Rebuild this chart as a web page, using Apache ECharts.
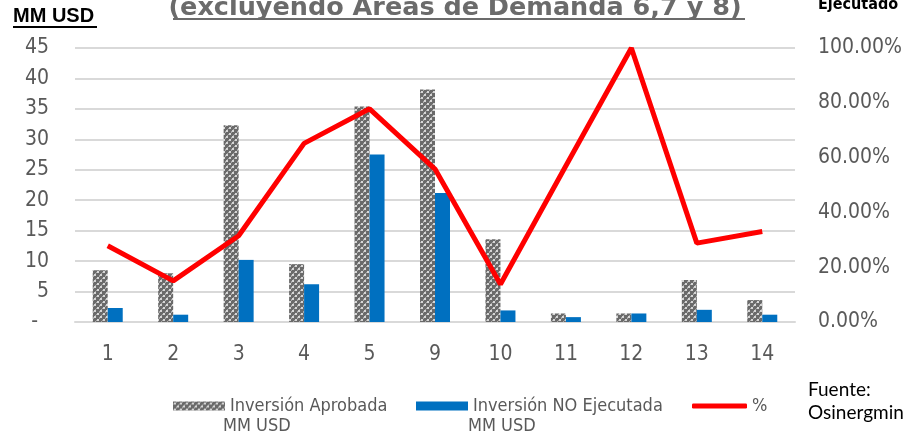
<!DOCTYPE html>
<html>
<head>
<meta charset="utf-8">
<script src="https://cdn.jsdelivr.net/npm/echarts@6/dist/echarts.min.js"></script>
<style>
  html, body { margin: 0; padding: 0; background: #fff; }
  #chart { width: 910px; height: 439px; }
</style>
</head>
<body>
<div id="chart"></div>
<script>
  // areas de demanda
  var categories = ['1', '2', '3', '4', '5', '9', '10', '11', '12', '13', '14']
  // MM USD
  var aprobada = [8.5, 8.0, 32.3, 9.5, 35.4, 38.2, 13.6, 1.4, 1.4, 6.9, 3.6]
  var noEjecutada = [2.3, 1.2, 10.2, 6.2, 27.5, 21.2, 1.9, 0.8, 1.4, 2.0, 1.2]
  // % no ejecutado
  var porcentaje = [27.8, 15.0, 31.5, 65.2, 77.8, 55.8, 13.8, 57.0, 100, 28.8, 33.0]

  var axisFont = "'DejaVu Sans Condensed', sans-serif"
  var legendText = {
    fontFamily: axisFont,
    fontSize: 18,
    color: '#595959',
    lineHeight: 22
  }

  // trama gris de las barras aprobadas
  function makePattern() {
    var c = document.createElement('canvas')
    c.width = 6
    c.height = 6
    var ctx = c.getContext('2d')
    ctx.fillStyle = '#6a6a6a'
    ctx.fillRect(0, 0, 6, 6)
    ctx.fillStyle = '#d6d6d6'
    ctx.fillRect(1, 1, 2, 2)
    ctx.fillRect(4, 4, 2, 2)
    ctx.fillStyle = '#a8a8a8'
    ctx.fillRect(0, 2, 1, 1)
    ctx.fillRect(3, 0, 1, 1)
    ctx.fillRect(3, 5, 1, 1)
    ctx.fillRect(5, 3, 1, 1)
    return c
  }
  var pattern = { image: makePattern(), repeat: 'repeat' }

  var chart = echarts.init(document.getElementById('chart'))
  chart.setOption({
    animation: false,
    grid: {
      left: 75,
      right: 115,
      top: 48,
      bottom: 117
    },
    legend: [
      {
        left: 168,
        top: 390,
        itemWidth: 52,
        itemHeight: 9,
        selectedMode: false,
        textStyle: legendText,
        data: [{ name: 'Inversión Aprobada', icon: 'rect' }]
      },
      {
        left: 411,
        top: 390,
        itemWidth: 52,
        itemHeight: 9,
        selectedMode: false,
        textStyle: legendText,
        data: [{ name: 'Inversión NO Ejecutada', icon: 'rect' }]
      },
      {
        left: 687,
        top: 390,
        itemWidth: 55,
        itemHeight: 5,
        selectedMode: false,
        textStyle: legendText,
        data: [{ name: '%', icon: 'roundRect' }]
      }
    ],
    xAxis: {
      type: 'category',
      data: categories,
      axisTick: { show: false },
      axisLine: { lineStyle: { color: '#d9d9d9', width: 2 } },
      axisLabel: {
        margin: 22,
        color: '#595959',
        fontFamily: axisFont,
        fontSize: 21
      }
    },
    yAxis: [
      {
        type: 'value',
        min: 0,
        max: 45,
        interval: 5,
        axisLine: { show: false },
        axisTick: { show: false },
        splitLine: { lineStyle: { color: '#d9d9d9', width: 2 } },
        axisLabel: {
          margin: 26,
          color: '#595959',
          fontFamily: axisFont,
          fontSize: 21,
          formatter: function (v) {
            return v === 0 ? '{d|-}' : String(v)
          },
          rich: {
            d: { padding: [0, 11, 0, 0], color: '#595959', fontFamily: axisFont, fontSize: 21 }
          }
        }
      },
      {
        type: 'value',
        min: 0,
        max: 100,
        interval: 20,
        axisLine: { show: false },
        axisTick: { show: false },
        splitLine: { show: false },
        axisLabel: {
          margin: 23,
          color: '#595959',
          fontFamily: axisFont,
          fontSize: 21,
          formatter: function (v) {
            return v.toFixed(2) + '%'
          }
        }
      }
    ],
    series: [
      {
        name: 'Inversión Aprobada',
        type: 'bar',
        barWidth: 15,
        barGap: '0%',
        itemStyle: { color: pattern },
        data: aprobada
      },
      {
        name: 'Inversión NO Ejecutada',
        type: 'bar',
        barWidth: 15,
        itemStyle: { color: '#0070c0' },
        data: noEjecutada
      },
      {
        name: '%',
        type: 'line',
        yAxisIndex: 1,
        symbol: 'none',
        lineStyle: { color: '#ff0000', width: 5 },
        itemStyle: { color: '#ff0000' },
        data: porcentaje
      }
    ],
    graphic: [
      {
        type: 'text',
        left: 'center',
        top: -5,
        style: {
          text: '(excluyendo Áreas de Demanda 6,7 y 8)',
          font: "bold 25.5px 'DejaVu Sans', sans-serif",
          fill: '#6b6b6b'
        }
      },
      {
        type: 'rect',
        shape: { x: 173, y: 18, width: 572, height: 2 },
        style: { fill: '#6b6b6b' }
      },
      {
        type: 'text',
        left: 13,
        top: 6,
        style: {
          text: 'MM USD',
          font: "bold 20px 'Liberation Sans', sans-serif",
          fill: '#000'
        }
      },
      {
        type: 'rect',
        shape: { x: 13, y: 26, width: 84, height: 2 },
        style: { fill: '#000' }
      },
      {
        type: 'text',
        left: 818,
        top: -3,
        style: {
          text: 'Ejecutado',
          font: "bold 16px 'DejaVu Sans Condensed', sans-serif",
          fill: '#000'
        }
      },
      {
        type: 'text',
        left: 223,
        top: 417,
        style: {
          text: 'MM USD',
          font: "18px 'DejaVu Sans Condensed', sans-serif",
          fill: '#595959'
        }
      },
      {
        type: 'text',
        left: 468,
        top: 417,
        style: {
          text: 'MM USD',
          font: "18px 'DejaVu Sans Condensed', sans-serif",
          fill: '#595959'
        }
      },
      {
        type: 'text',
        left: 808,
        top: 378,
        style: {
          text: 'Fuente:\nOsinergmin',
          font: "19px Lato, sans-serif",
          lineHeight: 23,
          fill: '#000'
        }
      }
    ]
  })
</script>
</body>
</html>
